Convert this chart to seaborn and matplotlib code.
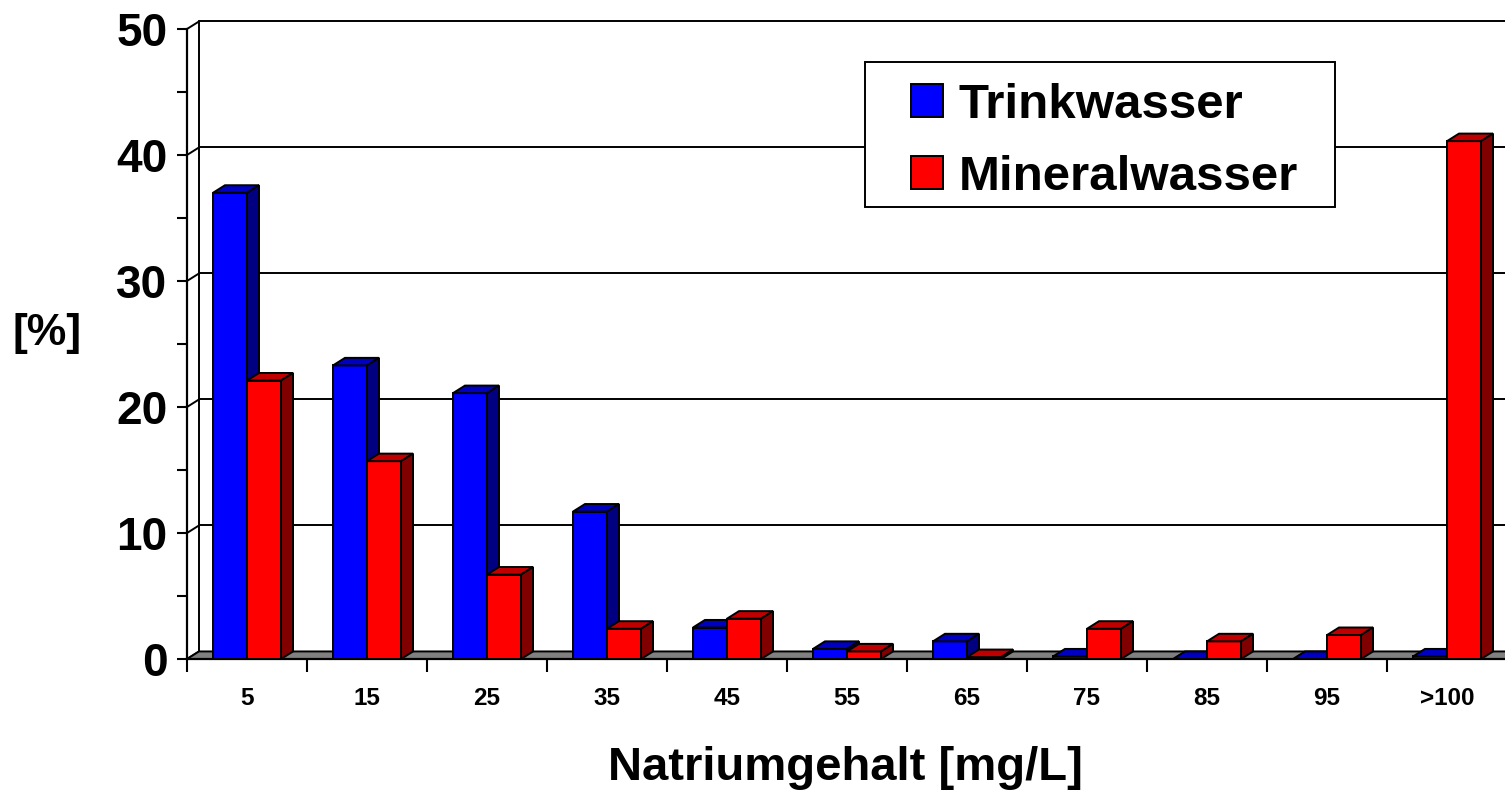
import matplotlib
matplotlib.use("Agg")
import matplotlib.pyplot as plt
from matplotlib.lines import Line2D
from matplotlib.patches import Patch, Polygon, Rectangle
from matplotlib.ticker import FixedLocator, MultipleLocator
import numpy as np
import pandas as pd
import seaborn as sns


# values
categories = ["5", "15", "25", "35", "45", "55", "65", "75", "85", "95", ">100"]
trinkwasser = [37.0, 23.3, 21.1, 11.7, 2.5, 0.8, 1.4, 0.2, 0.0, 0.0, 0.2]
mineralwasser = [22.1, 15.7, 6.7, 2.4, 3.2, 0.6, 0.15, 2.4, 1.4, 1.9, 41.1]
series_names = ["Trinkwasser", "Mineralwasser"]
y_ticks = [0, 10, 20, 30, 40, 50]

# front / top / side shades for the fake 3D bars
SHADES = {
    "Trinkwasser": ("#0000FF", "#0000C0", "#000080"),
    "Mineralwasser": ("#FF0000", "#C00000", "#800000"),
}
DEPTH_X = 0.1   # in category units
DEPTH_Y = 0.6   # in percent units
LW = 1.4


sns.set_theme(style="white")
plt.rcParams["font.family"] = ["Liberation Sans", "DejaVu Sans"]
plt.rcParams["font.weight"] = "bold"
for key in ["text.color", "axes.labelcolor", "xtick.color", "ytick.color"]:
    plt.rcParams[key] = "black"

df = pd.DataFrame({
    "Natriumgehalt": categories * 2,
    "Anteil": trinkwasser + mineralwasser,
    "Wasser": [series_names[0]] * len(categories) + [series_names[1]] * len(categories),
})

fig = plt.figure(figsize=(15.05, 7.92), dpi=100)
ax = fig.add_axes([187 / 1505, 133 / 792, 1320 / 1505, 630 / 792])

sns.barplot(
    data=df,
    x="Natriumgehalt",
    y="Anteil",
    hue="Wasser",
    hue_order=series_names,
    order=categories,
    palette=[SHADES[s][0] for s in series_names],
    saturation=1,
    width=0.567,
    edgecolor="black",
    linewidth=LW,
    errorbar=None,
    legend=False,
    ax=ax,
)

x_left = -0.5
x_right = len(categories) - 0.5
ax.set_xlim(x_left, x_right)
ax.set_ylim(0, 50)

# top and side faces of each bar, built from the seaborn rectangles
for j, cont in enumerate(ax.containers):
    front, top, side = SHADES[series_names[j]]
    z = 3 + j
    for bar in cont:
        x0, w, h = bar.get_x(), bar.get_width(), bar.get_height()
        bar.set_zorder(z)
        top_face = Polygon(
            [(x0, h), (x0 + w, h), (x0 + w + DEPTH_X, h + DEPTH_Y), (x0 + DEPTH_X, h + DEPTH_Y)],
            closed=True, facecolor=top, edgecolor="black", linewidth=LW, zorder=z, clip_on=False,
        )
        side_face = Polygon(
            [(x0 + w, 0), (x0 + w + DEPTH_X, DEPTH_Y), (x0 + w + DEPTH_X, h + DEPTH_Y), (x0 + w, h)],
            closed=True, facecolor=side, edgecolor="black", linewidth=LW, zorder=z, clip_on=False,
        )
        ax.add_patch(top_face)
        ax.add_patch(side_face)

# floor
floor = Polygon(
    [(x_left, 0), (x_right + 1, 0), (x_right + 1 + DEPTH_X, DEPTH_Y), (x_left + DEPTH_X, DEPTH_Y)],
    closed=True, facecolor="#808080", edgecolor="black", linewidth=LW, zorder=1.5, clip_on=False,
)
ax.add_patch(floor)

# back wall gridlines and left wall
for v in y_ticks[1:]:
    ax.add_line(Line2D([x_left + DEPTH_X, x_right + 1], [v + DEPTH_Y, v + DEPTH_Y],
                       color="black", linewidth=LW, zorder=1, clip_on=False))
for v in y_ticks:
    ax.add_line(Line2D([x_left, x_left + DEPTH_X], [v, v + DEPTH_Y],
                       color="black", linewidth=LW, zorder=1, clip_on=False))
ax.add_line(Line2D([x_left + DEPTH_X, x_left + DEPTH_X], [DEPTH_Y, 50 + DEPTH_Y],
                   color="black", linewidth=LW, zorder=1, clip_on=False))

# axes styling
for side in ["top", "right"]:
    ax.spines[side].set_visible(False)
for side in ["left", "bottom"]:
    ax.spines[side].set_linewidth(1.6)
    ax.spines[side].set_color("black")
    ax.spines[side].set_zorder(2.5)

ax.set_yticks(y_ticks)
ax.yaxis.set_minor_locator(MultipleLocator(5))
ax.tick_params(axis="y", which="both", direction="out", length=7.2, width=1.5,
               color="black", pad=7, labelsize=33, left=True)
ax.xaxis.set_minor_locator(FixedLocator(np.arange(x_left, x_right + 0.1, 1)))
ax.tick_params(axis="x", which="major", length=0, pad=20, labelsize=17.5)
ax.tick_params(axis="x", which="minor", direction="out", length=9, width=1.5,
               color="black", bottom=True)

ax.set_xlabel("Natriumgehalt [mg/L]", fontsize=34, fontweight="bold")
ax.xaxis.set_label_coords(0.4985, -0.173)
ax.xaxis.label.set_va("center")
ax.set_ylabel("[%]", fontsize=32, fontweight="bold", rotation=0)
ax.yaxis.set_label_coords(-0.106, 0.517)
ax.yaxis.label.set_ha("center")
ax.yaxis.label.set_va("center")

# legend box drawn separately so its padding can match the reference
legend_box = Rectangle(
    (865 / 1505, 1 - 207 / 792), 470 / 1505, 145 / 792,
    transform=fig.transFigure, facecolor="white", edgecolor="black",
    linewidth=LW, zorder=9, clip_on=False,
)
ax.add_patch(legend_box)

handles = [Patch(facecolor=SHADES[s][0], edgecolor="black", linewidth=LW, label=s) for s in series_names]
leg = ax.legend(
    handles=handles,
    loc="upper left",
    bbox_to_anchor=(911 / 1505, 1 - 83 / 792),
    bbox_transform=fig.transFigure,
    borderaxespad=0,
    borderpad=0,
    fontsize=35.5,
    handlelength=0.64,
    handleheight=0.64,
    handletextpad=0.32,
    labelspacing=0.55,
    frameon=False,
)
leg.set_zorder(10)

fig.savefig("out.png", dpi=100)
